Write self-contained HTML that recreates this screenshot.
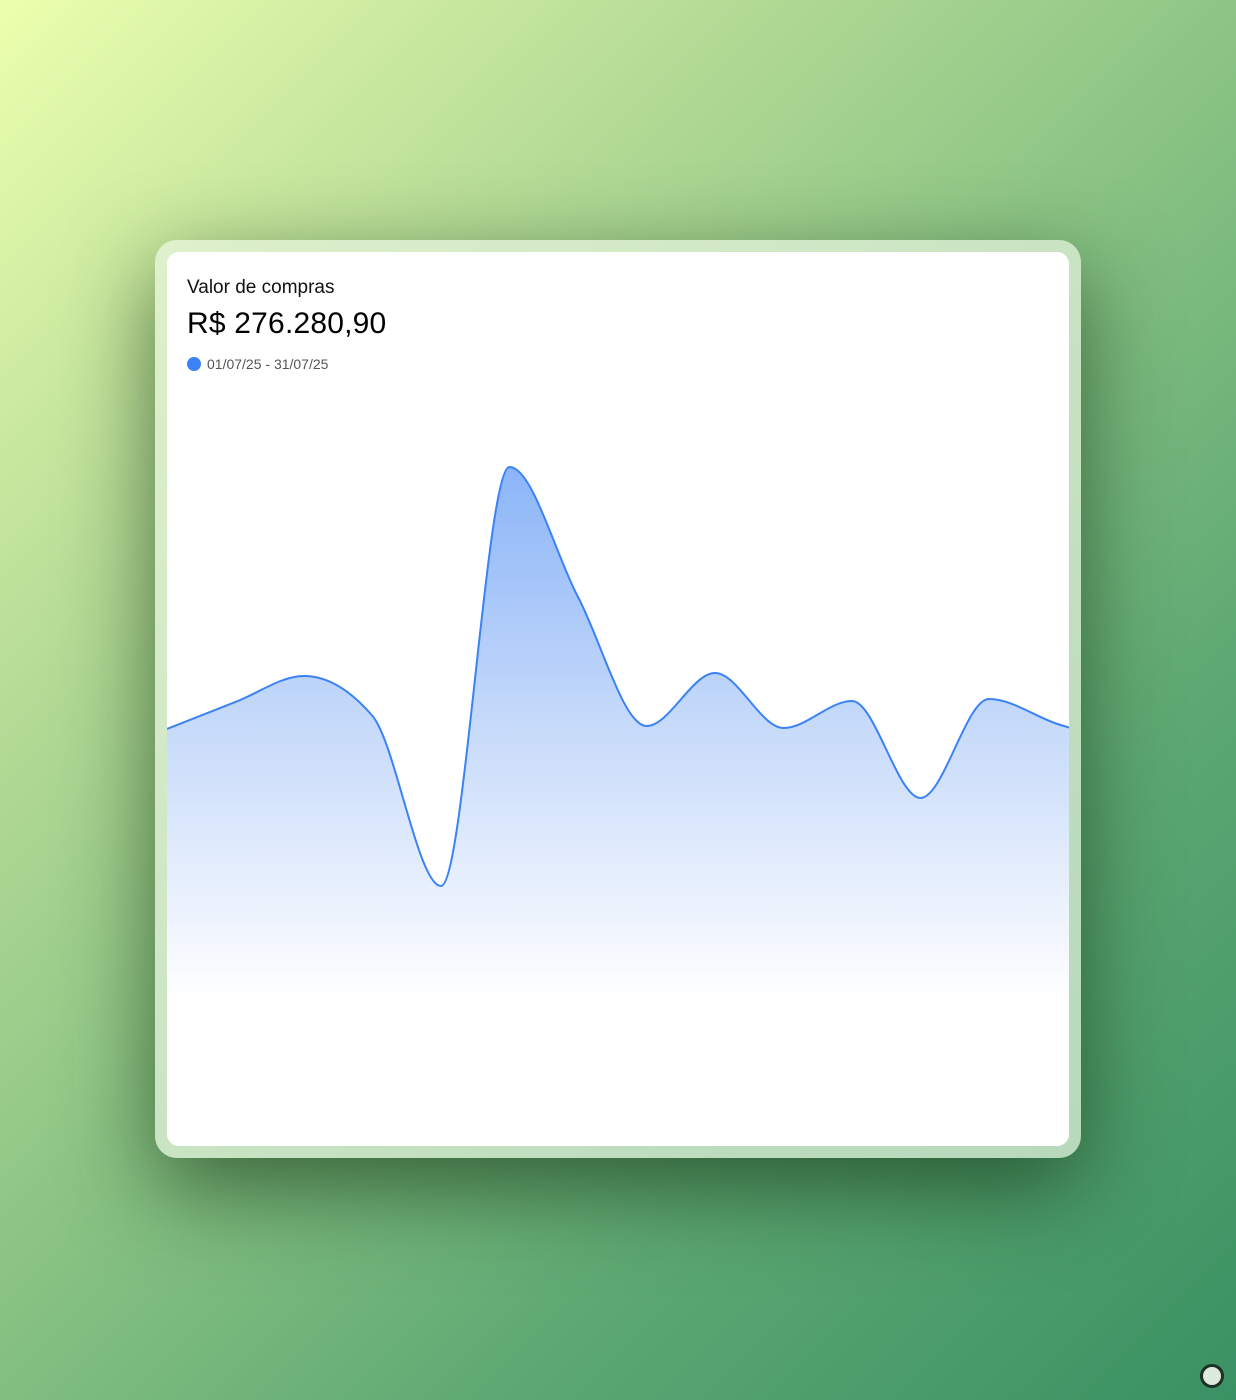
<!DOCTYPE html>
<html><head><meta charset="utf-8"><style>
html,body{margin:0;padding:0}
body{width:1236px;height:1400px;position:relative;overflow:hidden;font-family:"Liberation Sans",sans-serif;
background:linear-gradient(135deg,#ecffae 0%,#b9de98 25%,#88c283 50%,#5da873 72%,#3a9163 100%)}
.frame{position:absolute;left:155px;top:240px;width:926px;height:918px;border-radius:22px;background:rgba(230,242,222,0.7);box-shadow:0 30px 90px rgba(20,50,20,0.65)}
.card{position:absolute;left:167px;top:252px;width:902px;height:894px;border-radius:12px;background:#fff;overflow:hidden}
.t1{position:absolute;left:20px;top:25px;font-size:19px;color:#111}
.t2{position:absolute;left:20px;top:55px;font-size:30px;color:#000;letter-spacing:0.2px}
.lg{position:absolute;left:20px;top:104px;font-size:14px;color:#555;display:flex;align-items:center}
.dot{width:14px;height:14px;border-radius:50%;background:#3b82f6;margin-right:6px}
svg{position:absolute;left:0;top:0}
.knob{position:absolute;left:1200px;top:1364px;width:18px;height:18px;border-radius:50%;background:#dfeadf;border:3px solid #1f2f26}
</style></head><body>
<div class="frame"></div>
<div class="card">
<div class="t1">Valor de compras</div>
<div class="t2">R$ 276.280,90</div>
<div class="lg"><span class="dot"></span>01/07/25 - 31/07/25</div>
<svg id="chart" width="902" height="894">
<defs><linearGradient id="g" gradientUnits="userSpaceOnUse" x1="0" y1="210" x2="0" y2="750">
<stop offset="0" stop-color="#8ab4f8" stop-opacity="1"/><stop offset="0.5" stop-color="#c8dbfa" stop-opacity="1"/><stop offset="1" stop-color="#ffffff" stop-opacity="1"/></linearGradient></defs>
</svg>
</div>
<div class="knob"></div>
<script>
const days=[0,1,2,3,4,5,6,7,8,9,10,11,12,13,14];
const values=[5590,5952,6300,5764,3485,9102,7359,5630,6340,5603,5965,4665,5992,5657,5400];
const x=i=>i*68.5;
const y=v=>894-v/10000*746;
const P=days.map((d,i)=>[x(d),y(values[i])]);
function slope(a,b,c){const h0=b[0]-a[0],h1=c[0]-b[0],s0=(b[1]-a[1])/h0,s1=(c[1]-b[1])/h1,p=(s0*h1+s1*h0)/(h0+h1);
return (Math.sign(s0)+Math.sign(s1))*Math.min(Math.abs(s0),Math.abs(s1),0.5*Math.abs(p))||0;}
const n=P.length,t=[];
for(let i=0;i<n;i++){if(i==0)t.push((P[1][1]-P[0][1])/(P[1][0]-P[0][0]));else if(i==n-1)t.push((P[n-1][1]-P[n-2][1])/(P[n-1][0]-P[n-2][0]));else t.push(slope(P[i-1],P[i],P[i+1]));}
let d=`M${P[0][0]},${P[0][1]}`;
for(let i=0;i<n-1;i++){const dx=(P[i+1][0]-P[i][0])/3;d+=` C${P[i][0]+dx},${P[i][1]+dx*t[i]} ${P[i+1][0]-dx},${P[i+1][1]-dx*t[i+1]} ${P[i+1][0]},${P[i+1][1]}`;}
const svg=document.getElementById('chart'),NS='http://www.w3.org/2000/svg';
const area=document.createElementNS(NS,'path');


area.setAttribute('d',d+` L${P[n-1][0]},894 L0,894 Z`);area.setAttribute('fill','url(#g)');svg.appendChild(area);
const line=document.createElementNS(NS,'path');


line.setAttribute('d',d);line.setAttribute('fill','none');line.setAttribute('stroke','#3b82f6');line.setAttribute('stroke-width','2');svg.appendChild(line);
</script>
</body></html>
